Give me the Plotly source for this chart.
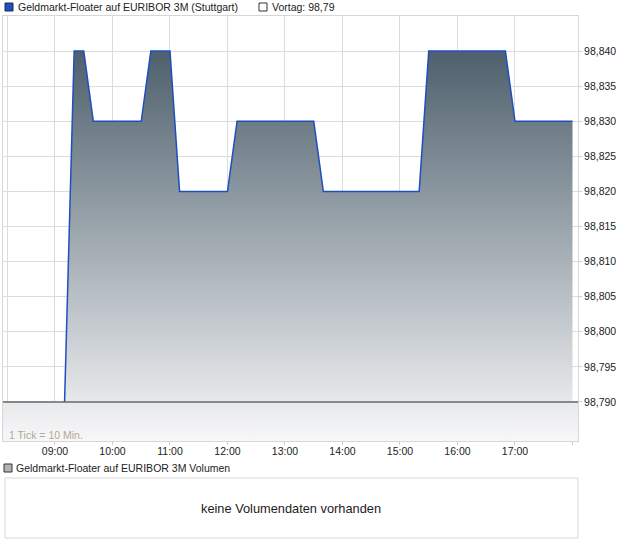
import plotly.graph_objects as go

# ---- data ----
times = ["09:10", "09:20", "09:30", "09:40", "10:30", "10:40", "11:00", "11:10",
         "12:00", "12:10", "13:30", "13:40", "15:20", "15:30", "16:50", "17:00", "18:00"]
prices = [98.79, 98.84, 98.84, 98.83, 98.83, 98.84, 98.84, 98.82,
          98.82, 98.83, 98.83, 98.82, 98.82, 98.84, 98.84, 98.83, 98.83]
vortag = 98.79
hour_labels = ["09:00", "10:00", "11:00", "12:00", "13:00", "14:00", "15:00", "16:00", "17:00"]
y_ticks = [98.790, 98.795, 98.800, 98.805, 98.810, 98.815, 98.820, 98.825, 98.830, 98.835, 98.840]
series_name = "Geldmarkt-Floater auf EURIBOR 3M (Stuttgart)"
volume_name = "Geldmarkt-Floater auf EURIBOR 3M Volumen"
vortag_label = "Vortag: 98,79"
no_volume = "keine Volumendaten vorhanden"

DAY = "2024-01-02 "
x_vals = [DAY + t + ":00" for t in times]
x_range = [DAY + "08:05:45", DAY + "18:05:45"]
y_range = [98.78443, 98.845]

W, H = 620, 546
FONT = "Liberation Sans, Arial, sans-serif"
FS = 10.5


def px(x):
    return x / W


def py(y):
    return 1 - y / H


grad = dict(type="vertical", start=y_range[0], stop=98.842,
            colorscale=[[0, "#f8f8f9"], [1, "#485b68"]])

fig = go.Figure()
fig.add_trace(go.Scatter(
    x=x_vals, y=prices, mode="lines", fill="tozeroy", fillgradient=grad,
    line=dict(color="#1f4fbf", width=1.5), hoverinfo="skip", showlegend=False))
fig.add_trace(go.Scatter(
    x=x_range, y=[vortag, vortag], mode="lines", fill="tozeroy", fillgradient=grad,
    line=dict(color="#6a6a6a", width=1.5), hoverinfo="skip", showlegend=False))

tickvals_x = [DAY + "08:10:00"] + [DAY + h + ":00" for h in hour_labels]
ticktext_x = [""] + hour_labels

fig.update_layout(
    width=W, height=H, autosize=False,
    margin=dict(l=0, r=0, t=0, b=0),
    paper_bgcolor="white", plot_bgcolor="white",
    separators=",.",
    font=dict(family=FONT, size=FS, color="#222"),
    xaxis=dict(domain=[px(3), px(578)], range=x_range, type="date",
               tickvals=tickvals_x, ticktext=ticktext_x,
               showgrid=True, gridcolor="#dcdcdc", gridwidth=1,
               showline=True, linecolor="#d6d6d6", linewidth=1, mirror=True,
               ticks="", tickfont=dict(size=FS, color="#222"), zeroline=False,
               minor=dict(ticks="outside", ticklen=3, tickcolor="#cfcfcf",
                          tick0=DAY + "09:00:00", dtick=3600000, showgrid=False)),
    yaxis=dict(domain=[py(441), py(16)], range=y_range, side="right",
               tickvals=y_ticks, tickformat=".3f",
               showgrid=True, gridcolor="#dcdcdc", gridwidth=1,
               showline=True, linecolor="#d6d6d6", linewidth=1, mirror=True,
               ticks="outside", ticklen=3, tickcolor="#cfcfcf",
               tickfont=dict(size=FS, color="#222"), zeroline=False),
)

shapes = [
    # top legend squares
    dict(type="rect", xref="paper", yref="paper", x0=px(5), x1=px(13), y0=py(11), y1=py(3),
         fillcolor="#1f4fbf", line=dict(color="#1a2a55", width=1)),
    dict(type="rect", xref="paper", yref="paper", x0=px(259), x1=px(267), y0=py(11), y1=py(3),
         fillcolor="white", line=dict(color="#333", width=1)),
    # volume legend square
    dict(type="rect", xref="paper", yref="paper", x0=px(4), x1=px(12), y0=py(472), y1=py(464),
         fillcolor="#b4b4b4", line=dict(color="#333", width=1)),
    # volume panel box
    dict(type="rect", xref="paper", yref="paper", x0=px(5), x1=px(578), y0=py(538), y1=py(478),
         fillcolor="white", line=dict(color="#d8d8d8", width=1)),
]

annotations = [
    dict(text=series_name, xref="paper", yref="paper", x=px(16), y=py(7),
         xanchor="left", yanchor="middle", showarrow=False, font=dict(size=FS, color="#222")),
    dict(text=vortag_label, xref="paper", yref="paper", x=px(270), y=py(7),
         xanchor="left", yanchor="middle", showarrow=False, font=dict(size=FS, color="#222")),
    dict(text="1 Tick = 10 Min.", xref="paper", yref="paper", x=px(7), y=py(435),
         xanchor="left", yanchor="middle", showarrow=False, font=dict(size=FS, color="#b3a894")),
    dict(text=volume_name, xref="paper", yref="paper", x=px(14), y=py(468),
         xanchor="left", yanchor="middle", showarrow=False, font=dict(size=FS, color="#222")),
    dict(text=no_volume, xref="paper", yref="paper", x=px(291), y=py(508),
         xanchor="center", yanchor="middle", showarrow=False, font=dict(size=12.8, color="#222")),
]

fig.update_layout(shapes=shapes, annotations=annotations)
fig.write_html("out.html", config={"displayModeBar": False},
               post_script="document.body.style.margin='0';document.body.style.overflow='hidden';")
